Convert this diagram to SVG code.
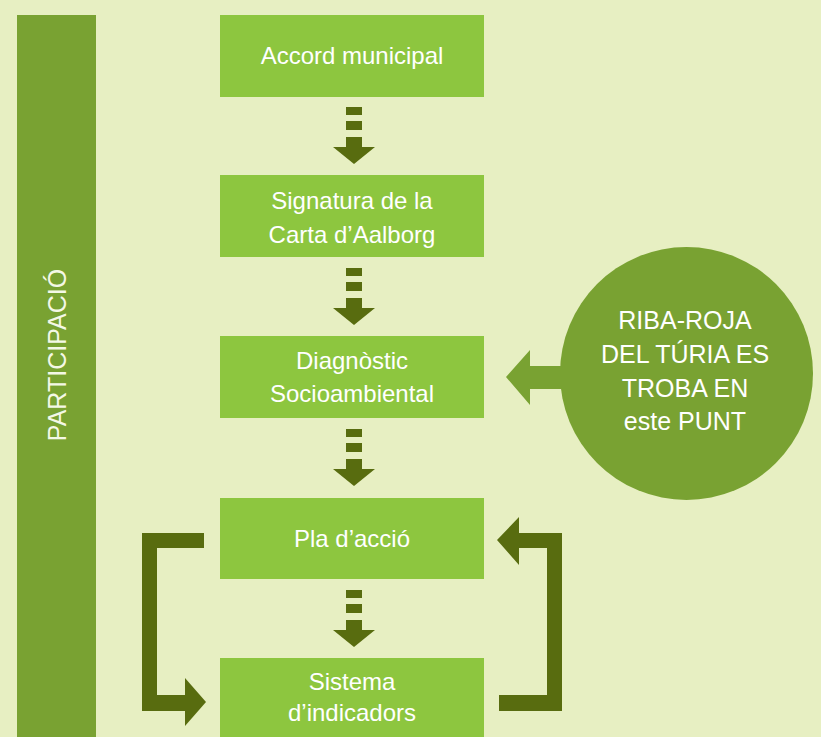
<svg xmlns="http://www.w3.org/2000/svg" width="821" height="737" viewBox="0 0 821 737">
<style>
.box{fill:#8dc63f}
.t{font-family:"Liberation Sans",Arial,sans-serif;font-size:24px;fill:#ffffff;text-anchor:middle}
.ct{font-family:"Liberation Sans",Arial,sans-serif;font-size:25px;fill:#ffffff;text-anchor:middle}
.dk{fill:#586c0f}
.md{fill:#79a232}
</style>
<rect width="821" height="737" fill="#e7efc2"/>
<g id="participacio">
<rect class="md" x="17" y="15" width="79" height="722"/>
<text class="ct" transform="translate(66,355) rotate(-90)" style="fill:#f4f8e6">PARTICIPACIÓ</text>
</g>
<g id="n1"><rect class="box" x="220" y="15" width="264" height="82"/><text class="t" x="352" y="64">Accord municipal</text></g>
<g id="n2"><rect class="box" x="220" y="175" width="264" height="82"/><text class="t" x="352" y="209">Signatura de la</text><text class="t" x="352" y="243">Carta d’Aalborg</text></g>
<g id="n3"><rect class="box" x="220" y="336" width="264" height="82"/><text class="t" x="352" y="369">Diagnòstic</text><text class="t" x="352" y="402">Socioambiental</text></g>
<g id="n4"><rect class="box" x="220" y="498" width="264" height="81"/><text class="t" x="352" y="547">Pla d’acció</text></g>
<g id="n5"><rect class="box" x="220" y="658" width="264" height="79"/><text class="t" x="352" y="690">Sistema</text><text class="t" x="352" y="721">d’indicadors</text></g>
<g id="riba">
<circle class="md" cx="686.5" cy="373.5" r="126.5"/>
<text class="ct" x="685" y="329">RIBA-ROJA</text>
<text class="ct" x="685" y="363">DEL TÚRIA ES</text>
<text class="ct" x="685" y="397">TROBA EN</text>
<text class="ct" x="685" y="430">este PUNT</text>
</g>
<defs>
<g id="da"><rect x="-8" y="0" width="16" height="8"/><rect x="-8" y="14" width="16" height="9"/><rect x="-8" y="30" width="16" height="10"/><polygon points="-21,40 21,40 0,57"/></g>
</defs>
<g id="connectors">
<use href="#da" class="dk" x="354" y="107"/>
<use href="#da" class="dk" x="354" y="268"/>
<use href="#da" class="dk" x="354" y="429"/>
<use href="#da" class="dk" x="354" y="590"/>
<polygon class="md" points="506,377 530,350 530,366 575,366 575,389 530,389 530,405"/>
<polygon class="dk" points="142,533 204,533 204,548 157,548 157,695 185,695 185,678 206,702 185,726 185,711 142,711"/>
<polygon class="dk" points="497,540 519,517 519,533 562,533 562,711 499,711 499,695 547,695 547,548 519,548 519,565"/>
</g>
</svg>
